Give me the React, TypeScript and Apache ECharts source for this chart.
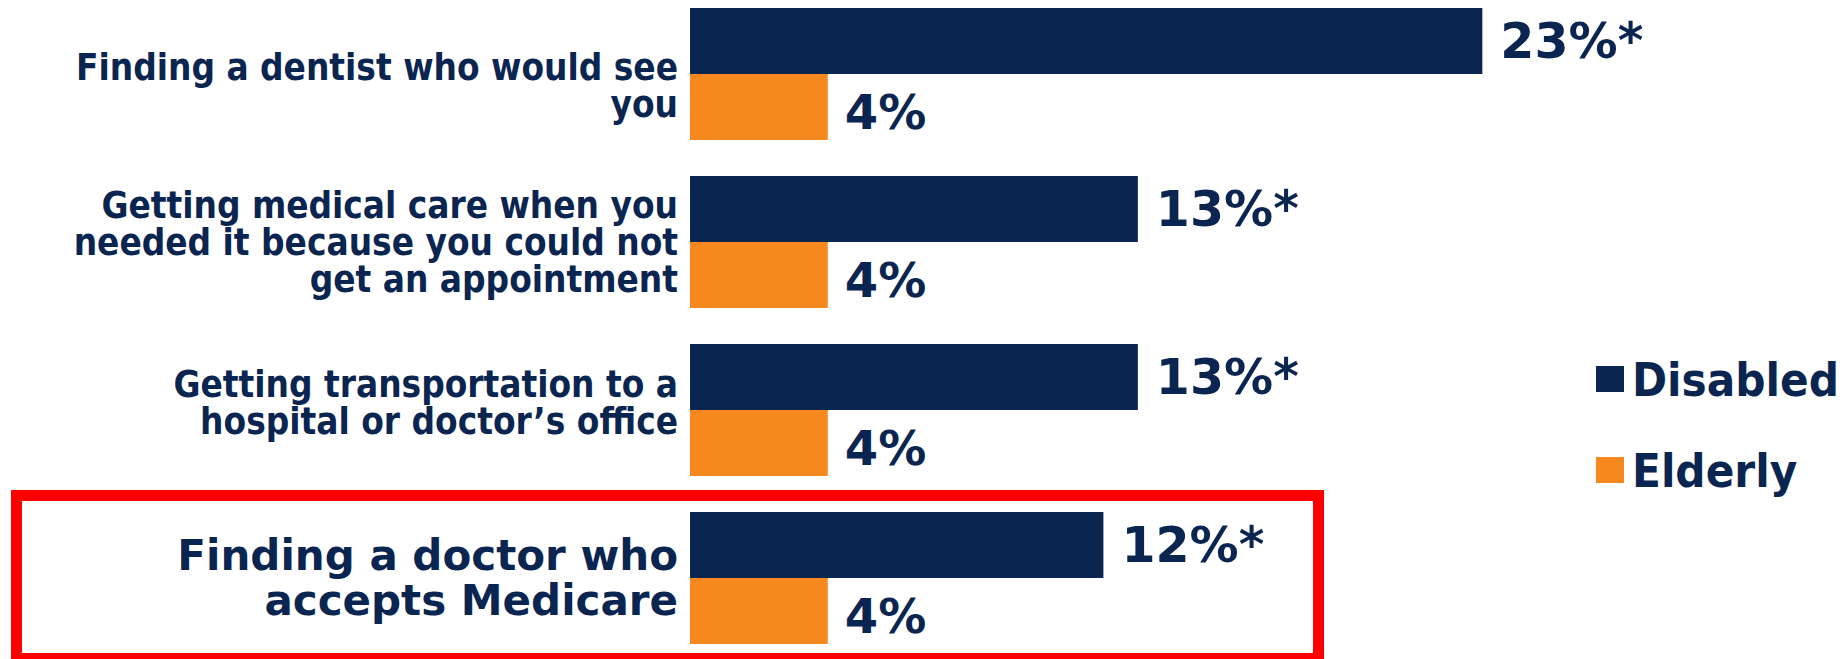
import React, { useEffect, useRef } from "react";
import * as echarts from "echarts";

const categories = [
  "Finding a dentist who would see\nyou",
  "Getting medical care when you\nneeded it because you could not\nget an appointment",
  "Getting transportation to a\nhospital or doctor’s office",
  "Finding a doctor who\naccepts Medicare",
];
const seriesNames = ["Disabled", "Elderly"];
const disabledValues = [23, 13, 13, 12];
const elderlyValues = [4, 4, 4, 4];
const disabledSignificant = [true, true, true, true];
const highlightedIndex = 3;

const NAVY = "#0a2550";
const ORANGE = "#f5891f";
const COND = "'DejaVu Sans Condensed', 'DejaVu Sans', sans-serif";
const WIDE = "'DejaVu Sans', sans-serif";
const SHIFT = 10; // chart div starts 10px above the page top

export default function App() {
  const ref = useRef<HTMLDivElement>(null);
  useEffect(() => {
    if (!ref.current) return;
    const chart = echarts.init(ref.current, null, { renderer: "svg" });
    const catData = categories.map((c, i) => {
      if (i === highlightedIndex) {
        return { value: c, textStyle: { fontFamily: WIDE, fontSize: 42, lineHeight: 45 } };
      }
      return { value: c };
    });
    chart.setOption({
      animation: false,
      grid: {
        left: 690,
        top: 0,
        width: 1033.5,
        height: 672,
        containLabel: false,
        outerBoundsMode: "none",
      },
      xAxis: {
        type: "value",
        min: 0,
        max: 30,
        show: false,
        splitLine: { show: false },
      },
      yAxis: {
        type: "category",
        inverse: true,
        data: catData,
        axisLine: { show: false },
        axisTick: { show: false },
        axisLabel: {
          margin: 12,
          color: NAVY,
          fontFamily: COND,
          fontWeight: "bold",
          fontSize: 36.6,
          lineHeight: 37,
          align: "right",
          formatter: (value: string, index: number) => {
            if (index === 0) return `{padA|}\n${value}`;
            if (index === 2) return `${value}\n{padB|}`;
            return value;
          },
          rich: {
            padA: { lineHeight: 24, fontSize: 1, height: 24 },
            padB: { lineHeight: 14, fontSize: 1, height: 14 },
          },
        },
      },
      legend: {
        orient: "vertical",
        left: 1591,
        top: 346 + SHIFT,
        itemWidth: 28,
        itemHeight: 26,
        itemGap: 35,
        icon: "rect",
        data: seriesNames,
        textStyle: {
          color: NAVY,
          fontFamily: COND,
          fontWeight: "bold",
          fontSize: 47,
          lineHeight: 56,
          padding: [0, 0, 0, 3],
        },
      },
      series: [
        {
          name: seriesNames[0],
          type: "bar",
          barWidth: 66,
          barGap: "0%",
          data: disabledValues,
          itemStyle: { color: NAVY },
          label: {
            show: true,
            position: "right",
            distance: 18,
            color: NAVY,
            fontFamily: WIDE,
            fontWeight: "bold",
            fontSize: 49,
            formatter: (p: any) => `${p.value}%${disabledSignificant[p.dataIndex] ? "*" : ""}`,
          },
        },
        {
          name: seriesNames[1],
          type: "bar",
          barWidth: 66,
          barGap: "0%",
          data: elderlyValues,
          itemStyle: { color: ORANGE },
          label: {
            show: true,
            position: "right",
            distance: 17,
            offset: [0, 5],
            color: NAVY,
            fontFamily: WIDE,
            fontWeight: "bold",
            fontSize: 48,
            formatter: (p: any) => `${p.value}%`,
          },
        },
      ],
      graphic: [
        {
          type: "rect",
          shape: { x: 16.5, y: 495.5 + SHIFT, width: 1302, height: 163 },
          style: { fill: "none", stroke: "#ff0000", lineWidth: 11 },
          silent: true,
        },
      ],
    });
    return () => chart.dispose();
  }, []);
  return (
    <div
      ref={ref}
      style={{ position: "absolute", left: 0, top: -SHIFT, width: 1847, height: 659 + SHIFT, background: "#ffffff" }}
    />
  );
}
